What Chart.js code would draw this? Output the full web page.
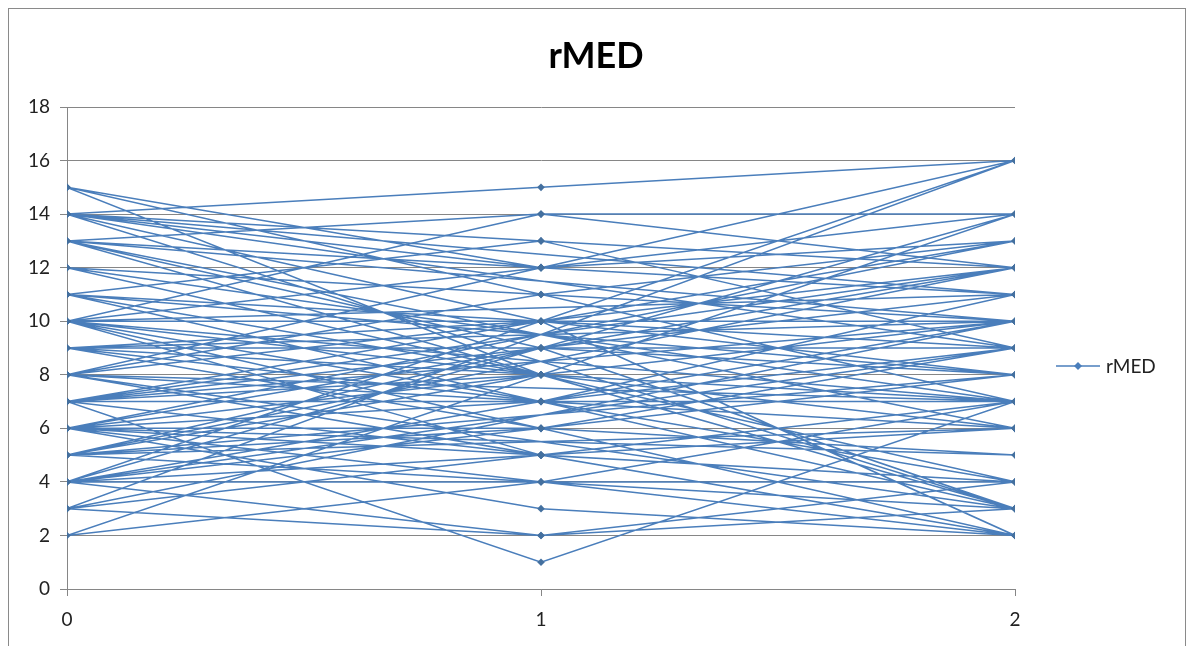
<!DOCTYPE html>
<html>
<head>
<meta charset="utf-8">
<title>rMED</title>
<script src="https://cdn.jsdelivr.net/npm/chart.js@4.4.1/dist/chart.umd.min.js"></script>
<style>
    html, body { margin: 0; padding: 0; background: #fff; overflow: hidden; }
    #frame {
        position: absolute; left: 8px; top: 8px; width: 1178px; height: 640px;
        border: 1px solid #8a8a8a; box-sizing: border-box;
    }
    #wrap { position: absolute; left: 0; top: 0; width: 1192px; height: 646px; }
</style>
</head>
<body>
<div id="frame"></div>
<div id="wrap"><canvas id="rmed-chart" width="1192" height="646"></canvas></div>
<script>
// visit number on the x axis, rMED score at each visit per subject
const visits = [0, 1, 2];
const rMedVisit0 = [15, 14, 4, 13, 7, 10, 2, 8, 14, 6, 5, 11, 7, 9, 3, 13, 8, 6, 10, 4, 12, 5, 7, 14, 9, 6, 10, 8, 4, 11, 15, 7, 5, 13, 6, 10, 8, 4, 12, 9, 6, 14, 7, 5, 10, 8, 3, 11];
const rMedVisit1 = [8, 15, 7, 12, 5, 12, 4, 7, 10, 9, 6, 13, 1, 10, 5, 9, 11, 7, 14, 2, 8, 8, 7, 13, 6, 3, 10, 5, 6, 8, 12, 9, 4, 14, 8, 7, 10, 5, 11, 7, 6, 12, 8, 9, 5, 12, 2, 10];
const rMedVisit2 = [3, 16, 10, 11, 6, 14, 7, 9, 2, 12, 8, 12, 7, 10, 6, 3, 13, 7, 14, 4, 6, 10, 11, 9, 5, 2, 12, 4, 9, 7, 11, 8, 3, 12, 10, 6, 9, 7, 10, 4, 9, 13, 6, 11, 2, 16, 3, 8];
const yTicks = [0, 2, 4, 6, 8, 10, 12, 14, 16, 18];
const chartTitle = 'rMED';

// one continuous series: each subject's three visits, then on to the next subject
const points = [];
rMedVisit0.forEach((v, i) => {
    [v, rMedVisit1[i], rMedVisit2[i]].forEach((y, k) => points.push({ x: visits[k], y: y }));
});

const lineBlue = '#4a7ebb';
const gridGrey = '#868686';
const fontFamily = 'Lato, "Open Sans", "Liberation Sans", sans-serif';

// title centred on the whole frame, legend entry on the right
const decorPlugin = {
    id: 'decor',
    afterDraw(chart) {
        const ctx = chart.ctx;
        ctx.save();
        ctx.fillStyle = '#000';
        ctx.font = 'bold 36px ' + fontFamily;
        ctx.textAlign = 'center';
        ctx.textBaseline = 'middle';
        ctx.fillText(chartTitle, 596, 56);

        const y = 366;
        ctx.strokeStyle = lineBlue;
        ctx.lineWidth = 1.4;
        ctx.beginPath();
        ctx.moveTo(1056, y);
        ctx.lineTo(1100, y);
        ctx.stroke();
        ctx.fillStyle = lineBlue;
        ctx.beginPath();
        ctx.moveTo(1078, y - 4);
        ctx.lineTo(1082, y);
        ctx.lineTo(1078, y + 4);
        ctx.lineTo(1074, y);
        ctx.closePath();
        ctx.fill();
        ctx.fillStyle = '#222';
        ctx.font = '19px ' + fontFamily;
        ctx.textAlign = 'left';
        ctx.fillText(chart.data.datasets[0].label, 1106, y + 1);
        ctx.restore();
    }
};

const ctx = document.getElementById('rmed-chart').getContext('2d');
const rmedChart = new Chart(ctx, {
    type: 'scatter',
    data: {
        datasets: [{
            label: 'rMED',
            data: points,
            showLine: true,
            borderColor: lineBlue,
            borderWidth: 1.5,
            backgroundColor: '#44709f',
            pointStyle: 'rectRot',
            pointRadius: 3.8,
            pointBorderWidth: 0,
            pointHoverRadius: 3.8,
            tension: 0
        }]
    },
    options: {
        responsive: false,
        animation: false,
        events: [],
        layout: { padding: { left: 0, right: 177, top: 107, bottom: 0 } },
        plugins: {
            legend: { display: false },
            tooltip: { enabled: false },
            title: { display: false }
        },
        scales: {
            x: {
                type: 'linear',
                min: 0,
                max: 2,
                afterFit: scale => { scale.height = 57; },
                ticks: {
                    stepSize: 1,
                    color: '#222',
                    padding: 12,
                    font: { family: fontFamily, size: 19 }
                },
                grid: { drawOnChartArea: false, drawTicks: true, tickLength: 7, color: gridGrey },
                border: { display: true, color: gridGrey, width: 1 }
            },
            y: {
                type: 'linear',
                min: yTicks[0],
                max: yTicks[yTicks.length - 1],
                afterFit: scale => { scale.width = 67; },
                afterBuildTicks: scale => { scale.ticks = yTicks.map(v => ({ value: v })); },
                ticks: {
                    color: '#222',
                    padding: 10,
                    font: { family: fontFamily, size: 19 }
                },
                grid: { color: gridGrey, lineWidth: 1, drawTicks: true, tickLength: 7 },
                border: { display: true, color: gridGrey, width: 1 }
            }
        }
    },
    plugins: [decorPlugin]
});
</script>
</body>
</html>
